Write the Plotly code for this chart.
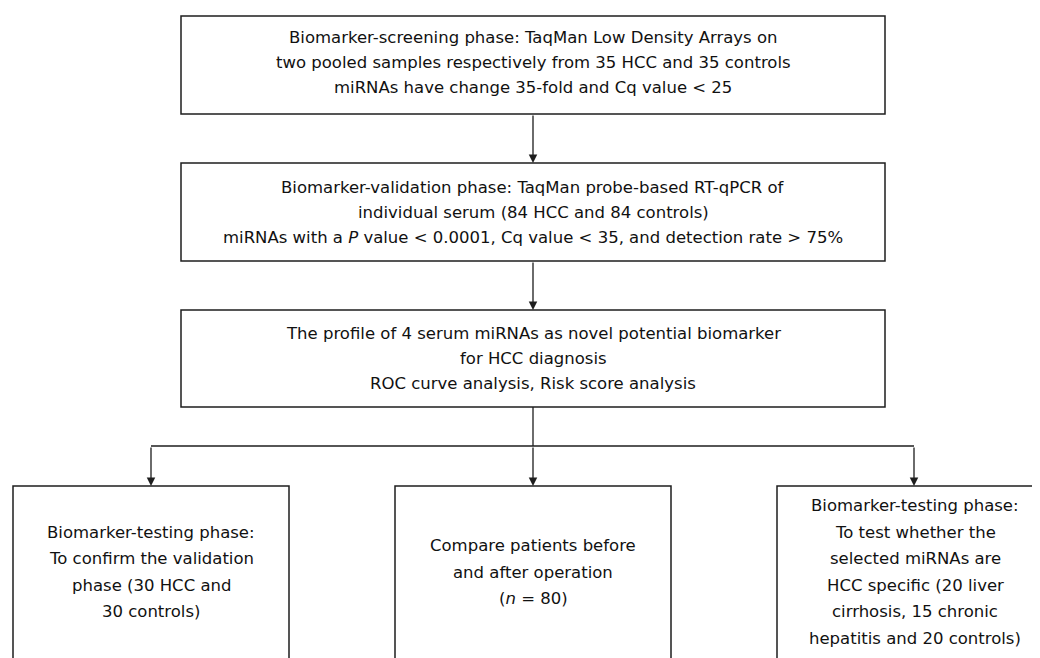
import plotly.graph_objects as go

# ---- content (texts) ----
box1_lines = [
    "Biomarker-screening phase: TaqMan Low Density Arrays on",
    "two pooled samples respectively from 35 HCC and 35 controls",
    "miRNAs have change 35-fold and Cq value < 25",
]
box2_lines = [
    "Biomarker-validation phase: TaqMan probe-based RT-qPCR of",
    "individual serum (84 HCC and 84 controls)",
    "miRNAs with a <i>P</i> value < 0.0001, Cq value < 35, and detection rate > 75%",
]
box3_lines = [
    "The profile of 4 serum miRNAs as novel potential biomarker",
    "for HCC diagnosis",
    "ROC curve analysis, Risk score analysis",
]
left_lines = [
    "Biomarker-testing phase:",
    "To confirm the validation",
    "phase (30 HCC and",
    "30 controls)",
]
mid_lines = [
    "Compare patients before",
    "and after operation",
    "(<i>n</i> = 80)",
]
right_lines = [
    "Biomarker-testing phase:",
    "To test whether the",
    "selected miRNAs are",
    "HCC specific (20 liver",
    "cirrhosis, 15 chronic",
    "hepatitis and 20 controls)",
]

# ---- layout geometry (screen pixels, y downwards) ----
W, H = 1040, 658
OFF = 8  # page body margin
FIG_W, FIG_H = W - OFF, H - OFF
top_boxes = [(181, 885, 16, 114), (181, 885, 163, 261), (181, 885, 310, 407)]
bottom_boxes = [(13, 289), (395, 671), (777, 1053)]
bottom_top = 486
branch_y = 446
text_centers_top = [62, 212, 358]
text_center_bottom = 572
spacing_top = 25.0
spacing_bottom = 26.6

LC = "#1e1e1e"
FONT = dict(family="DejaVu Sans, Verdana, sans-serif", size=16.5, color="#111111")

fig = go.Figure()
fig.add_trace(go.Scatter(x=[OFF, OFF + FIG_W], y=[OFF, OFF + FIG_H], mode="markers",
                         marker=dict(opacity=0), hoverinfo="skip", showlegend=False))

shapes = []
annotations = []

def px_x(v):  # screen x -> paper fraction
    return (v - OFF) / FIG_W

def px_y(v):  # screen y -> paper fraction (paper y goes up)
    return 1 - (v - OFF) / FIG_H

for (x0, x1, y0, y1) in top_boxes:
    shapes.append(dict(type="rect", xref="x", yref="y", x0=x0, x1=x1, y0=y0, y1=y1,
                       line=dict(color=LC, width=1.5), fillcolor="white", layer="below"))
for (x0, x1) in bottom_boxes:
    pth = (f"M {px_x(x0)},{px_y(H + 20)} L {px_x(x0)},{px_y(bottom_top)} "
           f"L {px_x(x1)},{px_y(bottom_top)} L {px_x(x1)},{px_y(H + 20)}")
    shapes.append(dict(type="path", xref="paper", yref="paper", path=pth,
                       line=dict(color=LC, width=1.5), layer="below"))

def add_lines(lines, cx, cy, spacing):
    n = len(lines)
    for i, t in enumerate(lines):
        y = cy + (i - (n - 1) / 2) * spacing
        annotations.append(dict(x=cx, y=y, xref="x", yref="y", text=t, showarrow=False,
                                xanchor="center", yanchor="middle", font=FONT))

cx_top = (top_boxes[0][0] + top_boxes[0][1]) / 2
for lines, cy in zip([box1_lines, box2_lines, box3_lines], text_centers_top):
    add_lines(lines, cx_top, cy, spacing_top)
for lines, (x0, x1) in zip([left_lines, mid_lines, right_lines], bottom_boxes):
    add_lines(lines, (x0 + x1) / 2, text_center_bottom, spacing_bottom)

def arrow(x, y_tail, y_head):
    annotations.append(dict(x=x, y=y_head, ax=x, ay=y_tail, xref="x", yref="y",
                            axref="x", ayref="y", showarrow=True, arrowhead=2,
                            arrowsize=1.3, arrowwidth=1.3, arrowcolor=LC, standoff=0, text=""))

arrow(cx_top, top_boxes[0][3], top_boxes[1][2])
arrow(cx_top, top_boxes[1][3], top_boxes[2][2])
shapes.append(dict(type="line", xref="x", yref="y", x0=cx_top, x1=cx_top,
                   y0=top_boxes[2][3], y1=branch_y, line=dict(color=LC, width=1.3)))
arrow_xs = [151, cx_top, 914]
shapes.append(dict(type="line", xref="x", yref="y", x0=arrow_xs[0], x1=arrow_xs[-1],
                   y0=branch_y, y1=branch_y, line=dict(color=LC, width=1.3)))
for ax_ in arrow_xs:
    arrow(ax_, branch_y, bottom_top)

fig.update_layout(
    width=FIG_W, height=FIG_H, margin=dict(l=0, r=0, t=0, b=0),
    paper_bgcolor="white", plot_bgcolor="white",
    xaxis=dict(range=[OFF, OFF + FIG_W], visible=False, fixedrange=True),
    yaxis=dict(range=[OFF + FIG_H, OFF], visible=False, fixedrange=True),
    shapes=shapes, annotations=annotations, showlegend=False,
)
fig.write_html("out.html")
